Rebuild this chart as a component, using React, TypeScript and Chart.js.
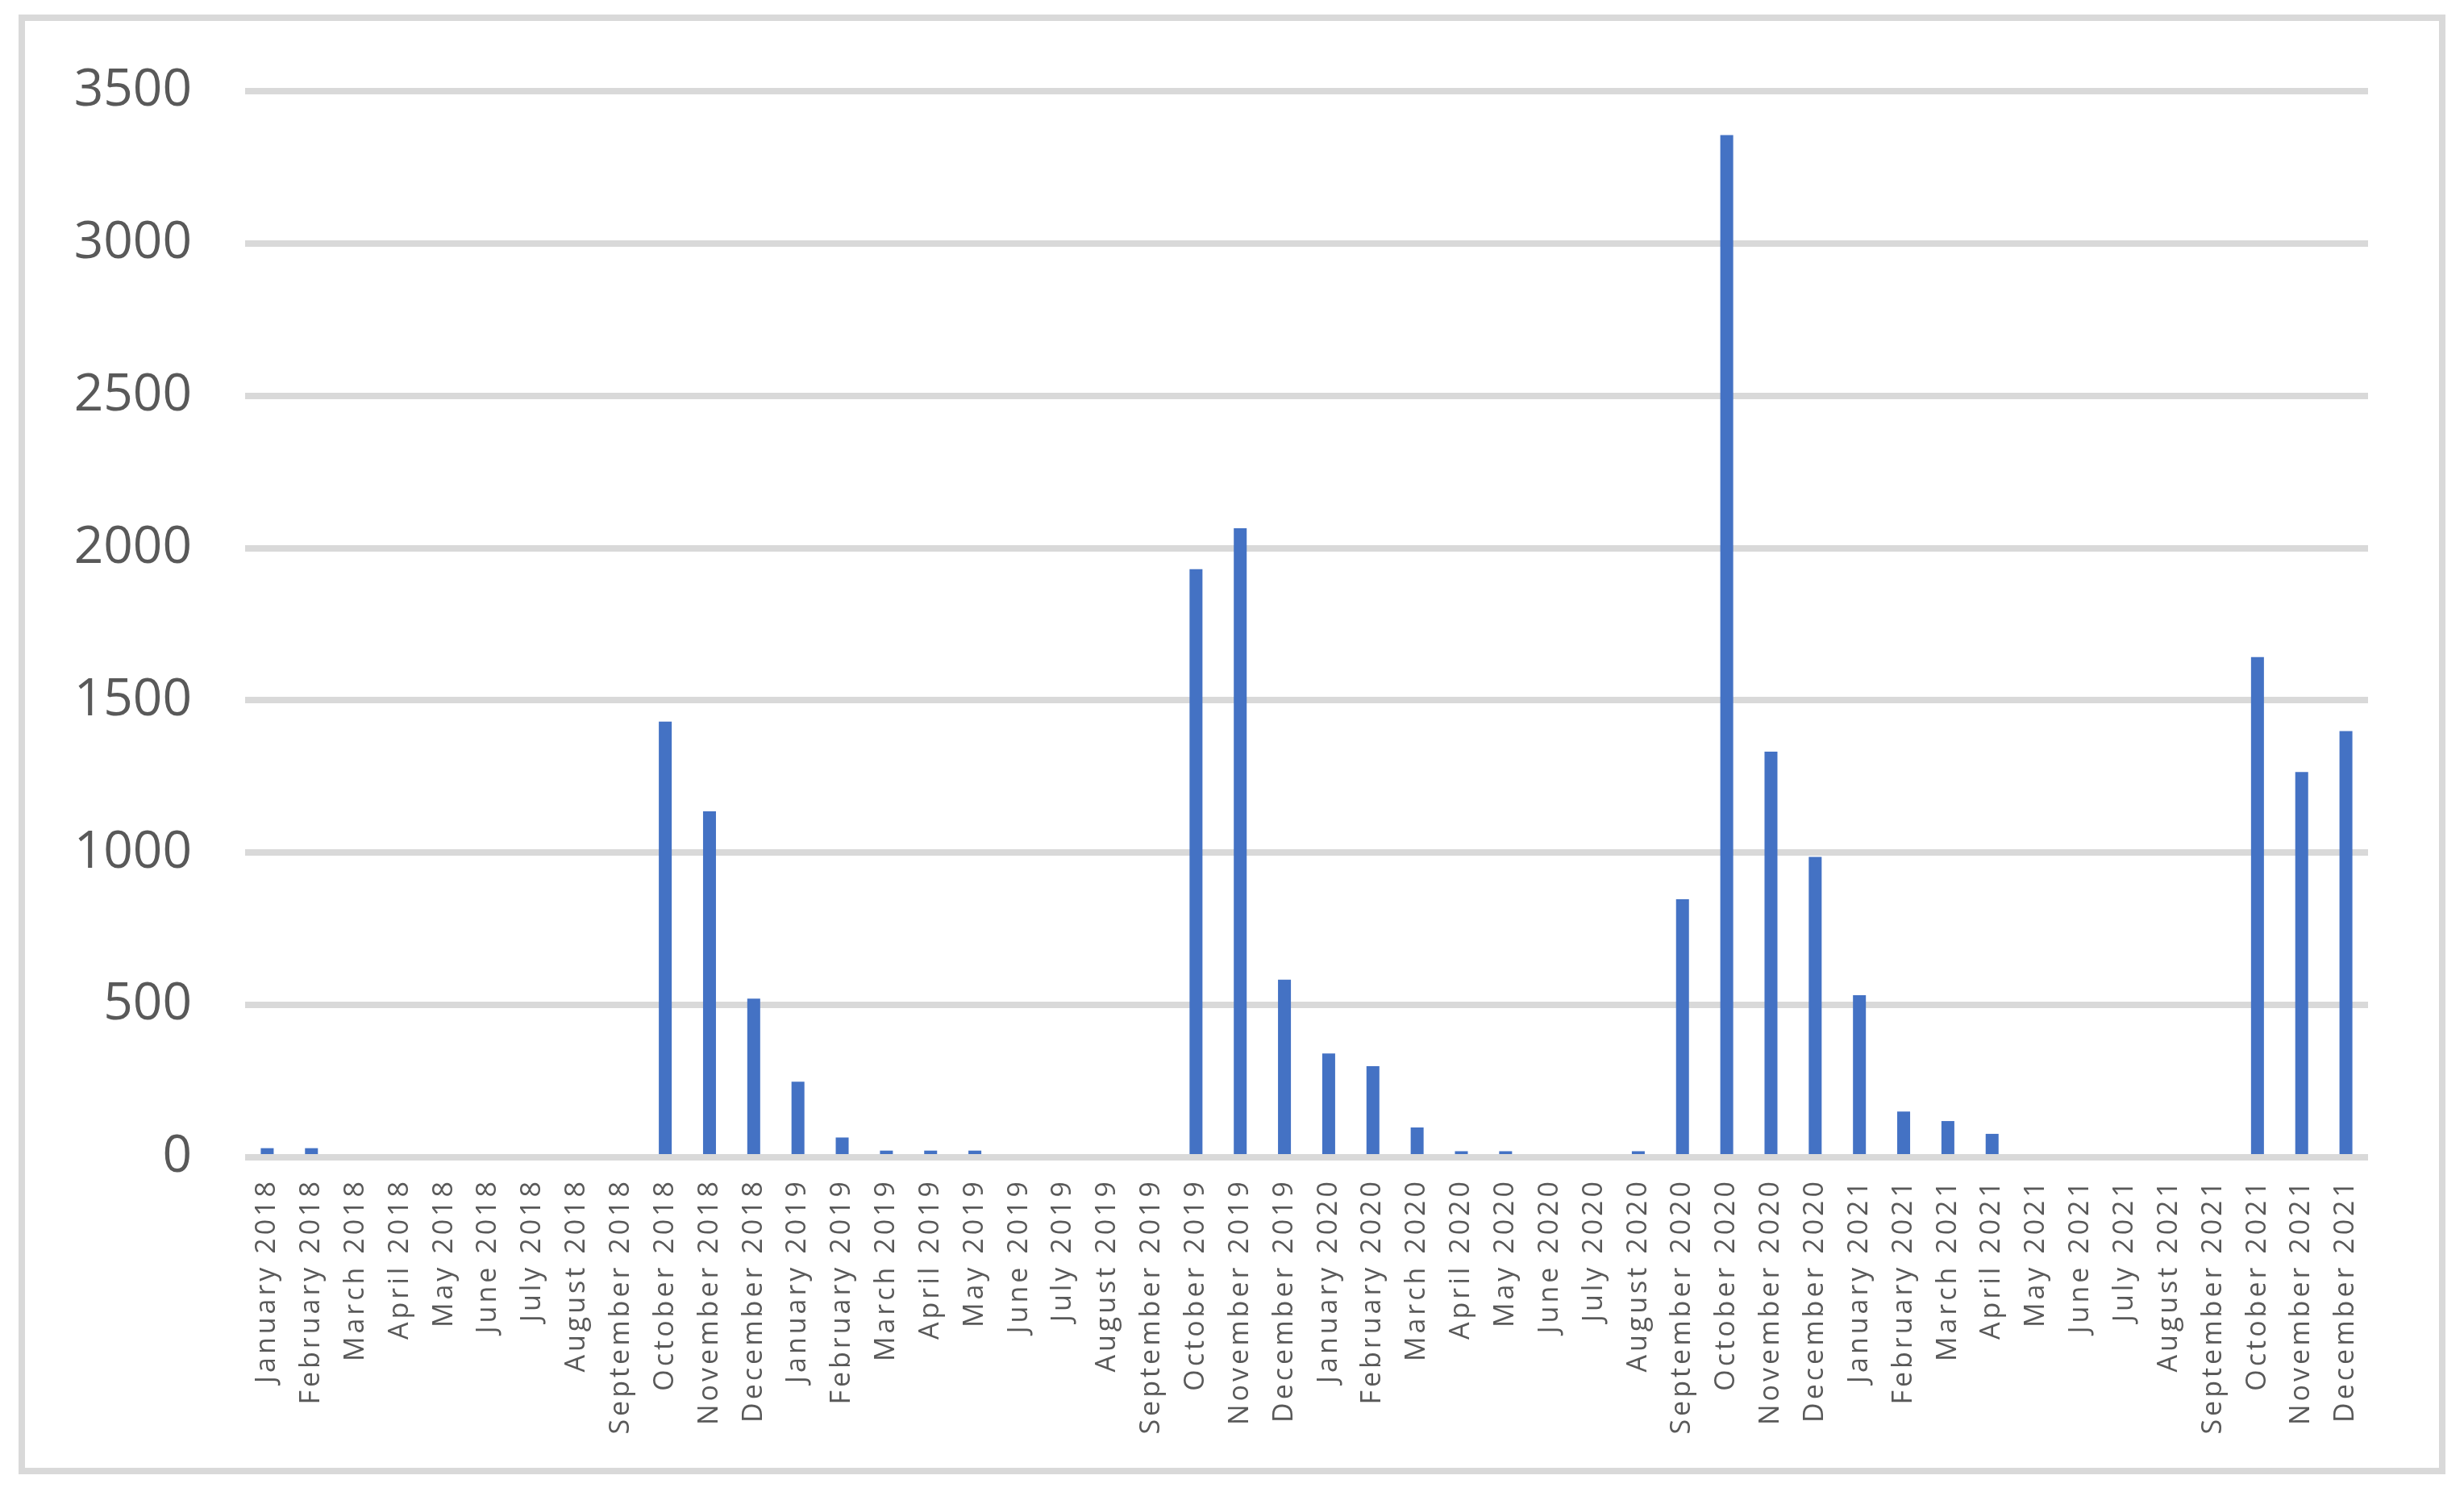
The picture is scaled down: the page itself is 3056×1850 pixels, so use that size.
import React, { useEffect, useRef } from "react";
import { Chart, registerables } from "chart.js";

Chart.register(...registerables);

const months = [
  "January", "February", "March", "April", "May", "June",
  "July", "August", "September", "October", "November", "December",
];
const years = ["2018", "2019", "2020", "2021"];
const categories: string[] = years.flatMap((y) => months.map((m) => `${m} ${y}`));

const values2018 = [30, 30, 0, 0, 0, 0, 0, 0, 0, 1430, 1136, 521];
const values2019 = [248, 65, 22, 22, 22, 0, 0, 0, 0, 1931, 2065, 583];
const values2020 = [341, 299, 98, 20, 20, 0, 0, 20, 847, 3356, 1332, 986];
const values2021 = [532, 150, 119, 77, 0, 0, 0, 0, 0, 1642, 1265, 1399];
const seriesValues = [...values2018, ...values2019, ...values2020, ...values2021];

const yTicks = [0, 500, 1000, 1500, 2000, 2500, 3000, 3500];

const borderPlugin = {
  id: "outerBorder",
  beforeDraw(chart: any) {
    const ctx = chart.ctx;
    ctx.save();
    ctx.fillStyle = "#ffffff";
    ctx.fillRect(0, 0, chart.width, chart.height);
    ctx.strokeStyle = "#d9d9d9";
    ctx.lineWidth = 8;
    ctx.strokeRect(19, 14, 3002, 1802);
    ctx.restore();
    const sx = chart.scales.x;
    if (sx && !sx.__spaced) {
      const orig = sx.drawLabels.bind(sx);
      sx.drawLabels = (area: any) => {
        const c = sx.ctx;
        c.save();
        c.letterSpacing = "4px";
        orig(area);
        c.restore();
      };
      sx.__spaced = true;
    }
  },
};

export default function App() {
  const ref = useRef<HTMLCanvasElement | null>(null);
  useEffect(() => {
    if (!ref.current) return;
    const chart = new Chart(ref.current, {
      type: "bar",
      data: {
        labels: categories,
        datasets: [
          {
            data: seriesValues,
            backgroundColor: "#4472c4",
            borderWidth: 0,
            categoryPercentage: 1,
            barPercentage: 0.292,
          },
        ],
      },
      options: {
        responsive: false,
        animation: false,
        maintainAspectRatio: false,
        layout: { padding: { left: 0, right: 111, top: 105, bottom: 0 } },
        plugins: { legend: { display: false }, tooltip: { enabled: false } },
        scales: {
          x: {
            type: "category",
            grid: { display: false, drawTicks: false },
            border: { display: false },
            ticks: {
              autoSkip: false,
              maxRotation: 90,
              minRotation: 90,
              padding: 26,
              color: "#595959",
              font: { family: "'Open Sans'", size: 34 },
            },
            afterFit: (s: any) => {
              s.height = 407;
            },
          },
          y: {
            min: 0,
            max: 3500,
            afterBuildTicks: (s: any) => {
              s.ticks = yTicks.map((v) => ({ value: v }));
            },
            grid: { color: "#d9d9d9", lineWidth: 8, drawTicks: false },
            border: { display: false },
            ticks: {
              padding: 66,
              color: "#595959",
              font: { family: "'Open Sans'", size: 64 },
              callback: (v: any) => String(v),
            },
            afterFit: (s: any) => {
              s.width = 296;
            },
          },
        },
      },
      plugins: [borderPlugin],
    });
    return () => chart.destroy();
  }, []);
  return <canvas ref={ref} width={3040} height={1834} style={{ display: "block" }} />;
}
